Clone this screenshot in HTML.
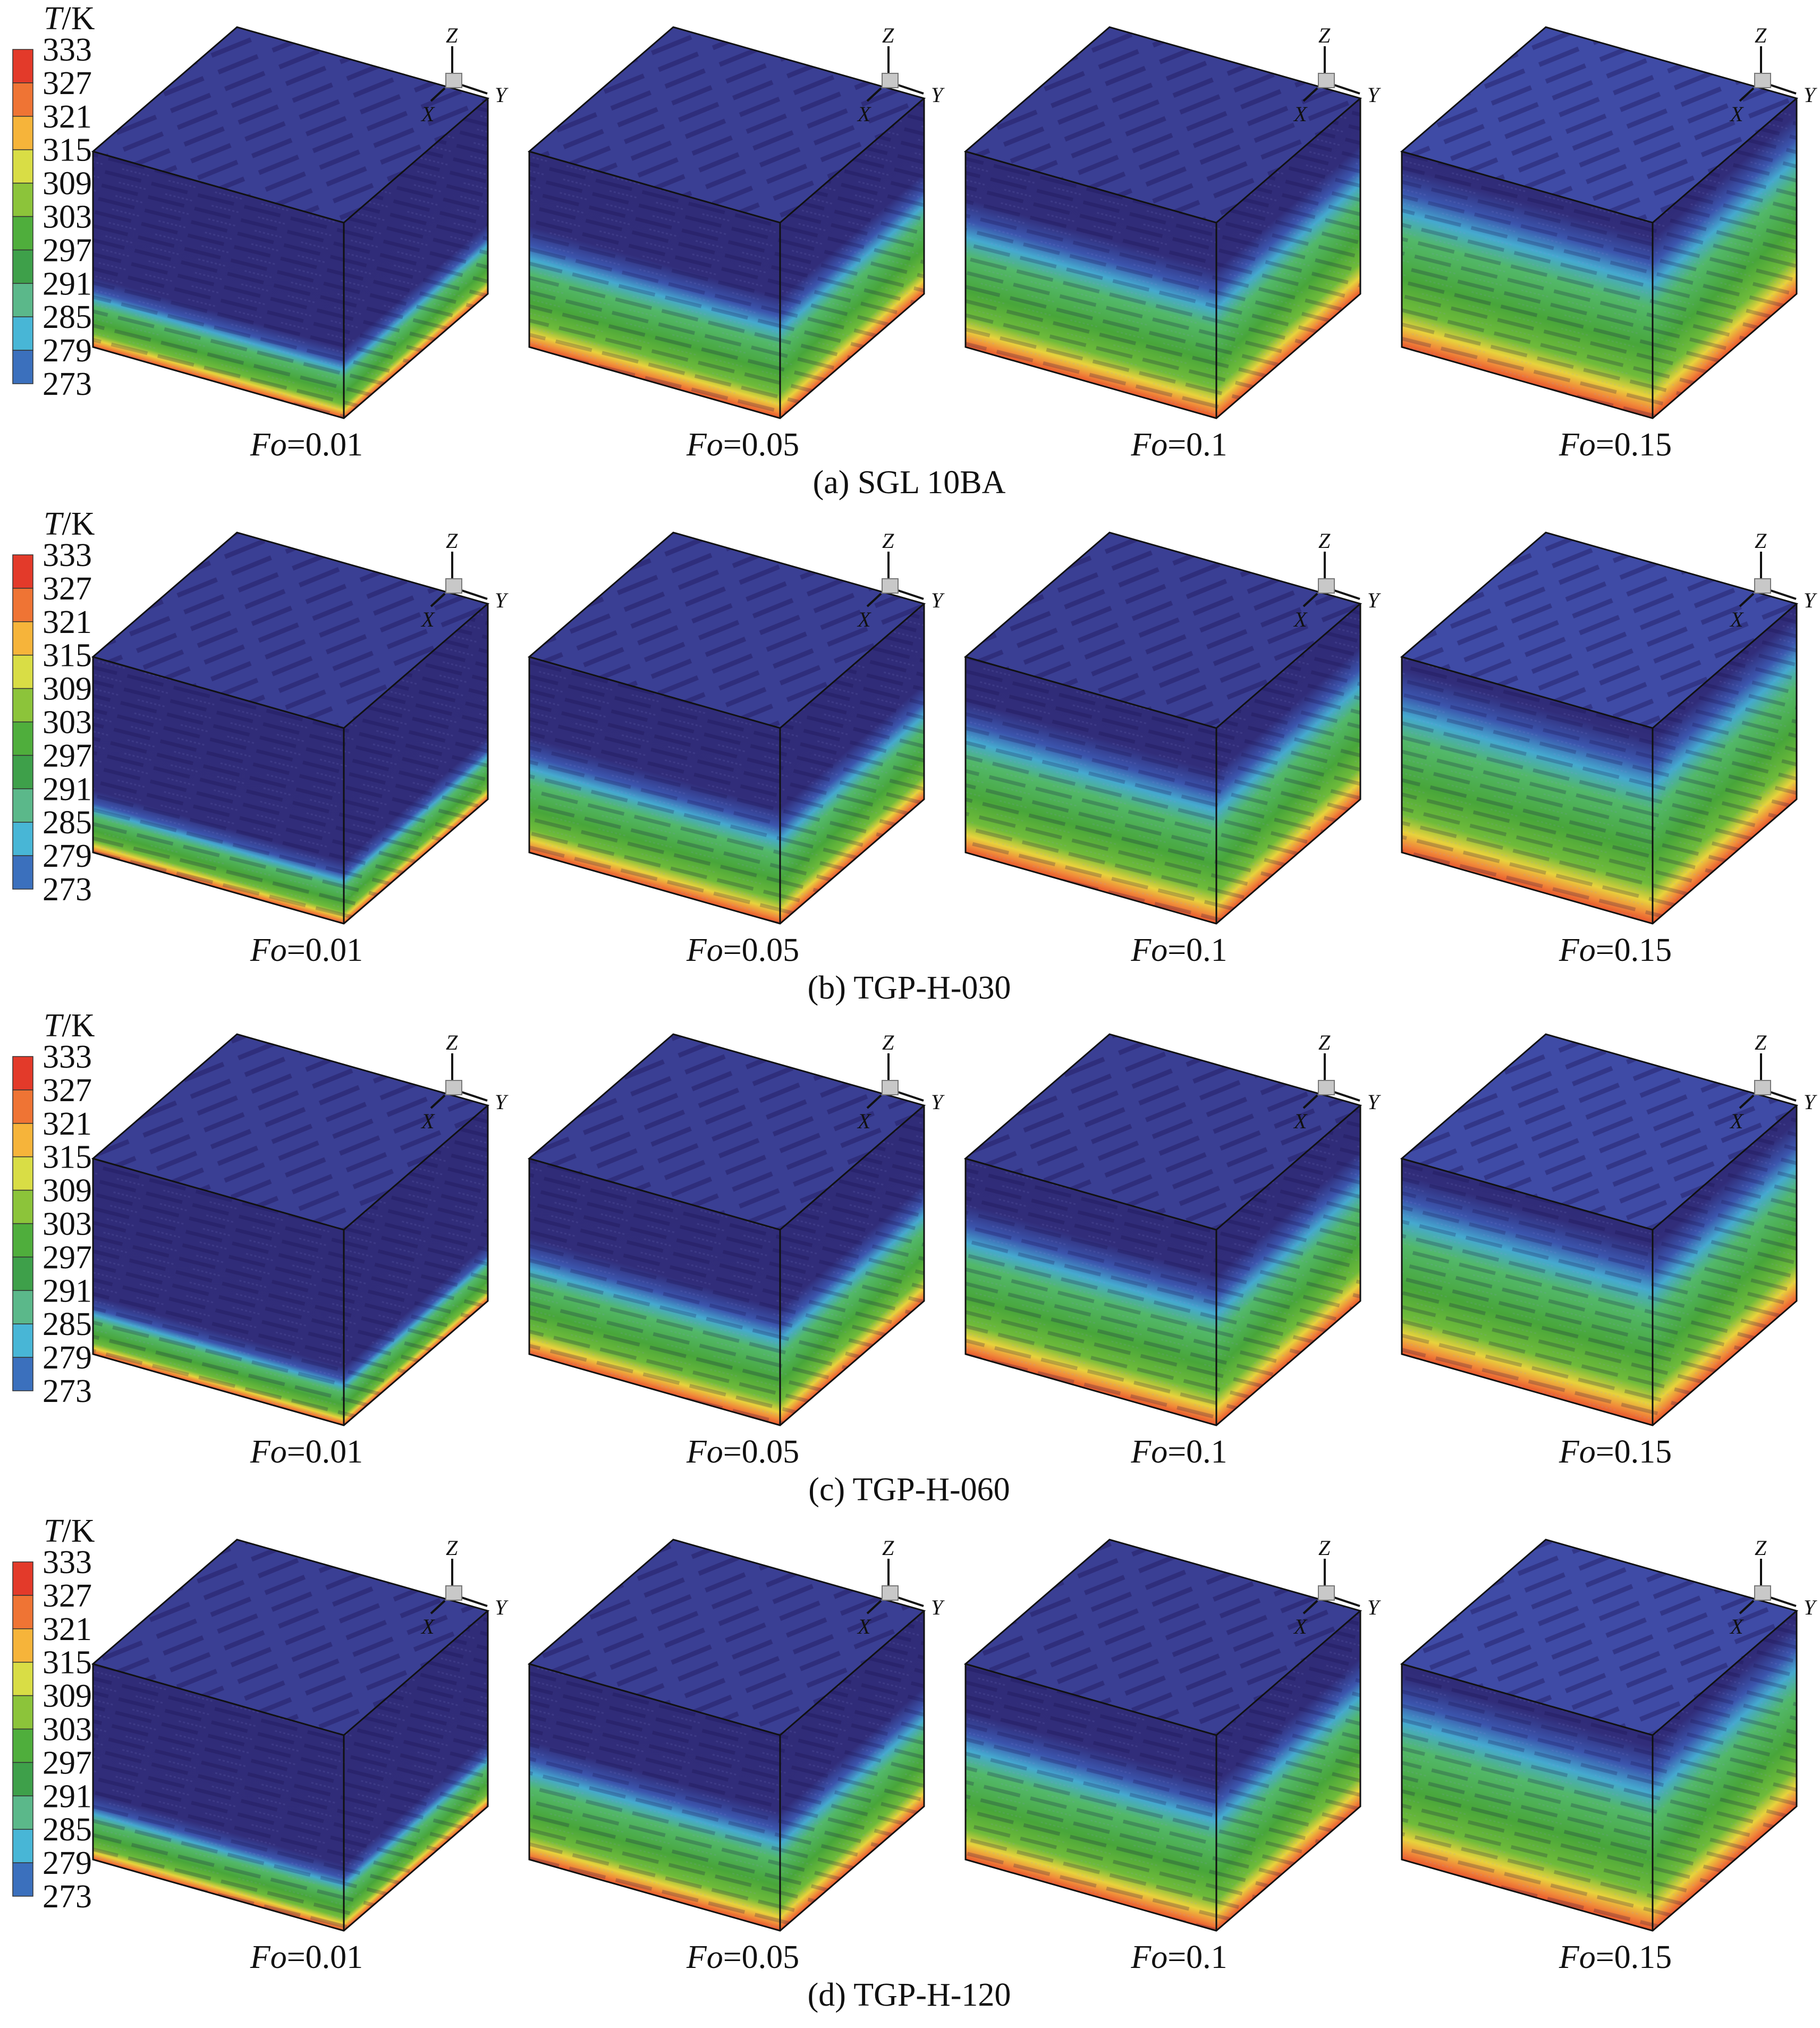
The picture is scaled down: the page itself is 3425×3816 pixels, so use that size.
<!DOCTYPE html>
<html><head><meta charset="utf-8"><style>
html,body{margin:0;padding:0;background:#fff;}
svg{display:block;}
text{font-family:"Liberation Serif","Times New Roman",serif;fill:#111;}
</style></head><body>
<svg id="fig" width="3425" height="3816" viewBox="0 0 3425 3816" xmlns="http://www.w3.org/2000/svg" font-family="Liberation Serif, serif">
<defs id="defs">
<pattern id="fib" width="90" height="26" patternUnits="userSpaceOnUse" patternTransform="rotate(14)">
<line x1="0" y1="6" x2="70" y2="6" stroke="rgba(20,10,70,0.22)" stroke-width="7"/>
<line x1="30" y1="19" x2="85" y2="19" stroke="rgba(150,150,230,0.12)" stroke-width="3" stroke-dasharray="4 4"/>
</pattern>
<pattern id="fib2" width="110" height="34" patternUnits="userSpaceOnUse" patternTransform="rotate(-22)">
<line x1="0" y1="8" x2="80" y2="8" stroke="rgba(25,15,80,0.35)" stroke-width="9"/>
</pattern>
</defs>
</svg>
<script>
// ---- data ----
const panelNames = ["(a) SGL 10BA","(b) TGP-H-030","(c) TGP-H-060","(d) TGP-H-120"];
const foValues = ["0.01","0.05","0.1","0.15"];
const legendTicks = [333,327,321,315,309,303,297,291,285,279,273];
// depth (fraction of cube height from top) where heating front ends (dark region)
const frontA = [0.68,0.42,0.28,0.12];
const frontB = [0.72,0.45,0.26,0.10];
const frontC = [0.74,0.44,0.27,0.12];
const frontD = [0.70,0.43,0.28,0.10];
const fronts = [frontA,frontB,frontC,frontD];

// ---- layout ----
const svg = document.getElementById('fig');
const defs = document.getElementById('defs');
const NS = "http://www.w3.org/2000/svg";
const rowOff = [0,951,1895,2846];
const colX = [175,996,1817,2638];
const W = 472, DX = 271, DY = -234, DROP = 134, H = 368;
const pal = ["#e33a2a","#ef7434","#f6b43a","#d9dd45","#8cc43a","#4fae3c","#3ea04a","#5bb88a","#48b6d6","#3b70bd","#3a4a9e"];
let gid = 0;
function mk(tag, attrs, parent){
  const e = document.createElementNS(NS, tag);
  for (const k in attrs) e.setAttribute(k, attrs[k]);
  (parent||svg).appendChild(e);
  return e;
}
function grad(x1,y1,x2,y2,f){
  const id = 'g'+(gid++);
  const g = mk('linearGradient',{id:id,gradientUnits:'userSpaceOnUse',x1:x1,y1:y1,x2:x2,y2:y2},defs);
  const rest = 1-f;
  const stops = [[0,"#302c78"],[Math.max(0,f-0.04),"#312d7a"],[f+rest*0.10,"#3b55ad"],[f+rest*0.22,"#45a9cf"],
    [f+rest*0.36,"#52b86a"],[f+rest*0.6,"#48a63a"],[f+rest*0.78,"#6fbb3a"],[f+rest*0.88,"#e8d23c"],[f+rest*0.95,"#f08a3a"],[1,"#e9552e"]];
  stops.forEach(s=>mk('stop',{offset:Math.min(1,s[0]),'stop-color':s[1]},g));
  return id;
}
function gradAlongFace(px,py,ex,ey,f){
  const nx = -ey, ny = ex; let n = Math.hypot(nx,ny); let ux=nx/n, uy=ny/n;
  if (uy<0){ux=-ux;uy=-uy;}
  const t = H*uy;
  return grad(px,py,px+ux*t,py+uy*t,f);
}
function poly(pts){return pts.map(p=>p[0]+','+p[1]).join(' ');}
const FF = "Liberation Serif, Times New Roman, serif";

for (let r=0;r<4;r++){
  const oy = rowOff[r];
  const lg = mk('g',{});
  
  
  const ttl = mk('text',{x:82,y:oy+55,'font-size':62,'font-family':FF},lg);
  
  
  ttl.innerHTML = '<tspan font-style="italic">T</tspan>/K';
  const top = oy+93, bot = oy+722, seg=(bot-top)/(legendTicks.length-1);
  for (let i=0;i<legendTicks.length-1;i++){
    const c = mk('rect',{x:24,y:top+i*seg,width:38,height:seg,fill:pal[i],stroke:'#333','stroke-width':1.5},lg);
    
    
  }
  legendTicks.forEach((v,i)=>{
    const t = mk('text',{x:80,y:top+i*seg+21,'font-size':62,'font-family':FF},lg);
    
    
    t.textContent = v;
  });
  for (let c=0;c<4;c++){
    const x0 = colX[c], y0 = oy+285;
    const f = fronts[r][c];
    const ftl=[x0,y0], ftr=[x0+W,y0+DROP], btr=[x0+W+DX,y0+DROP+DY], tbl=[x0+DX,y0+DY];
    const fbl=[x0,y0+H], fbr=[x0+W,y0+DROP+H], bbr=[x0+W+DX,y0+DROP+DY+H];
    const g = mk('g',{});
    
    
    const topC = c===3 ? "#3f4ba6" : "#3a3f94";
    const tf = mk('polygon',{points:poly([ftl,ftr,btr,tbl]),fill:topC},g);
    
    
    mk('polygon',{points:poly([ftl,ftr,btr,tbl]),fill:'url(#fib2)'},g);
    const fg = gradAlongFace(ftl[0],ftl[1],W,DROP,f);
    const ff = mk('polygon',{points:poly([ftl,ftr,fbr,fbl]),fill:'url(#'+fg+')'},g);
    
    
    mk('polygon',{points:poly([ftl,ftr,fbr,fbl]),fill:'url(#fib)'},g);
    const rg = gradAlongFace(ftr[0],ftr[1],DX,DY,f);
    const rf = mk('polygon',{points:poly([ftr,btr,bbr,fbr]),fill:'url(#'+rg+')'},g);
    
    
    mk('polygon',{points:poly([ftr,btr,bbr,fbr]),fill:'url(#fib)'},g);
    const ed = mk('path',{d:`M${ftl} L${ftr} L${btr} L${tbl} Z M${ftr} L${fbr} M${ftl} L${fbl} L${fbr} L${bbr} L${btr}`,fill:'none',stroke:'#111','stroke-width':3},g);
    
    
    const ax = x0+676, ay = y0-217;
    const tr = mk('g',{},g);
    
    
    mk('line',{x1:ax,y1:ay+19,x2:ax,y2:ay+70,stroke:'#111','stroke-width':4},tr);
    mk('line',{x1:ax+18,y1:ay+92,x2:ax+66,y2:ay+108,stroke:'#111','stroke-width':4},tr);
    mk('line',{x1:ax-14,y1:ay+98,x2:ax-40,y2:ay+122,stroke:'#111','stroke-width':4},tr);
    mk('rect',{x:ax-12,y:ay+70,width:30,height:27,fill:'#c8c8c8',stroke:'#777','stroke-width':2},tr);
    [['Z',ax-12,ay+12],['Y',ax+80,ay+124],['X',ax-58,ay+160]].forEach(a=>{
      const t = mk('text',{x:a[1],y:a[2],'font-size':40,'font-style':'italic','font-family':FF},tr);
      
      
      t.textContent = a[0];
    });
    const lab = mk('text',{x:x0+402,y:oy+857,'font-size':62,'text-anchor':'middle','font-family':FF});
    
    
    lab.innerHTML = '<tspan font-style="italic">Fo</tspan>='+foValues[c];
  }
  const cap = mk('text',{x:1711,y:oy+928,'font-size':62,'text-anchor':'middle','font-family':FF});
  
  
  cap.textContent = panelNames[r];
}
</script>
</body></html>
